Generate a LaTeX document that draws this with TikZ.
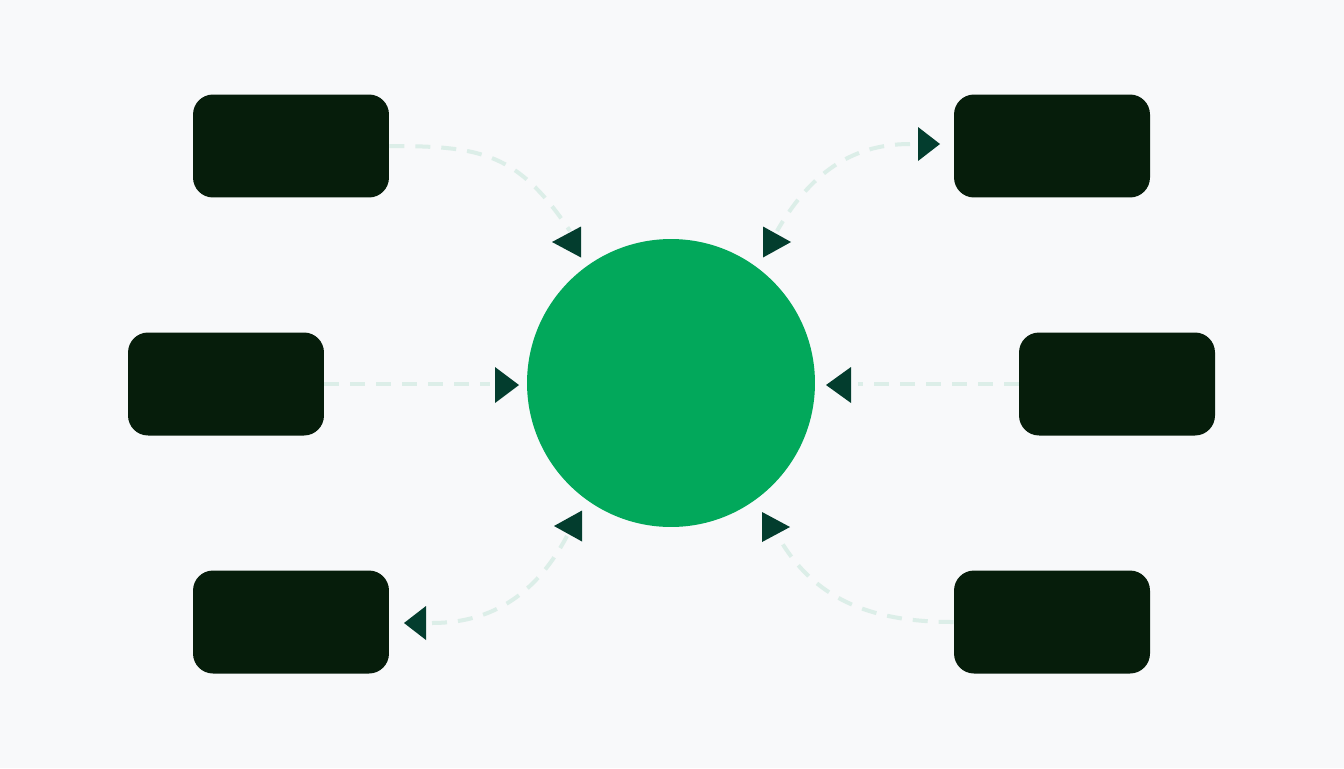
\documentclass[tikz,border=0pt]{standalone}
\definecolor{pagebg}{HTML}{F8F9FA}
\definecolor{boxdark}{HTML}{061D0B}
\definecolor{hubgreen}{HTML}{02A85B}
\definecolor{tipdark}{HTML}{033D2E}
\definecolor{dashmint}{HTML}{DCEEE8}
\tikzset{
  card/.style={fill=boxdark, rounded corners=0.4cm, minimum width=3.92cm, minimum height=2.06cm, inner sep=0pt},
  hub/.style={circle, fill=hubgreen, minimum size=5.76cm, inner sep=0pt},
  link/.style={draw=dashmint, line width=0.08cm, dash pattern=on 0.3cm off 0.22cm},
  tip/.style={fill=tipdark}
}
\begin{document}
\begin{tikzpicture}[x=0.02cm,y=-0.02cm]
      \fill[pagebg] (0,0) rectangle (1344,768);
      \useasboundingbox (0,0) rectangle (1344,768);
      \node[hub] (hub) at (671,383) {};
      \draw
        (291,146) node[card] (tl){}
        (226,384) node[card] (ml){}
        (291,622) node[card] (bl){}
        (1052,146) node[card] (tr){}
        (1117,384) node[card] (mr){}
        (1052,622) node[card] (br){};
      % loose ends of the dashed links
      \coordinate (tlhead) at (570,231);
      \coordinate (trtail) at (910,144);
      \coordinate (trhead) at (777,231);
      \coordinate (mlhead) at (490,384);
      \coordinate (bltail) at (432,623);
      \coordinate (blhead) at (567,536);
      \coordinate (mrhead) at (858,384);
      \coordinate (brhead) at (779,538);
      \begin{scope}[link]
        \draw (tl.east) to[out=0,in=124,looseness=1.2] (tlhead);
        \draw (trtail) to[out=180,in=60] (trhead);
        \draw (ml.east) -- (mlhead);
        \draw (bltail) to[out=0,in=-118] (blhead);
        \draw (mr.west) -- (mrhead);
        \draw (br.west) to[out=180,in=-60] (brhead);
      \end{scope}
      % heads
      \foreach \bx/\by/\ax/\h in {581/242/552/15.5, 763/242/791/15.5, 918/144/940/17,
          495/385/519/18, 582/526/554/15.5, 426/623/404/17, 762/527/790/15, 851/385/826/18}
        \fill[tip] (\bx,\by-\h) -- (\bx,\by+\h) -- (\ax,\by) -- cycle;
    \end{tikzpicture}
\end{document}
